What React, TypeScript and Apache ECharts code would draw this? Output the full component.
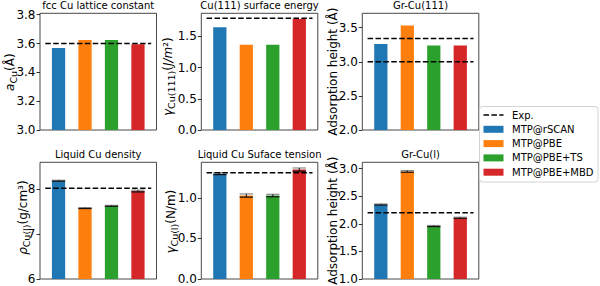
import React, { useEffect, useRef } from "react";
import * as echarts from "echarts";

// ---------- data ----------
const methods = ["MTP@rSCAN", "MTP@PBE", "MTP@PBE+TS", "MTP@PBE+MBD"];
const methodColors = ["#1f77b4", "#ff7f0e", "#2ca02c", "#d62728"];
const expLabel = "Exp.";

const panelTitles = [
  "fcc Cu lattice constant",
  "Cu(111) surface energy",
  "Gr-Cu(111)",
  "Liquid Cu density",
  "Liquid Cu Suface tension",
  "Gr-Cu(l)",
];

const latticeConstant = [3.57, 3.625, 3.625, 3.595];
const latticeConstantExp = [3.6];

const surfaceEnergy = [1.645, 1.367, 1.366, 1.78];
const surfaceEnergyExp = [1.79];

const grCu111Height = [3.26, 3.53, 3.24, 3.24];
const grCu111Exp = [3.0, 3.34];

const liquidDensity = [8.19, 7.58, 7.63, 7.96];
const liquidDensityErr = [0.01, 0.01, 0.01, 0.02];
const liquidDensityExp = [8.02];

const surfaceTension = [1.3, 1.03, 1.03, 1.35];
const surfaceTensionErr = [0.012, 0.02, 0.015, 0.02];
const surfaceTensionExp = [1.31];

const grCuLHeight = [2.35, 2.95, 1.96, 2.11];
const grCuLErr = [0.01, 0.015, 0.01, 0.01];
const grCuLExp = [2.2];

const yMins = [3.0, 0, 2.0, 6, 0, 1.0];
const yMaxs = [3.81, 1.87, 3.71, 8.6, 1.44, 3.115];
const yTickValues = [
  [3.0, 3.2, 3.4, 3.6, 3.8],
  [0, 0.5, 1.0, 1.5],
  [2.0, 2.5, 3.0, 3.5],
  [6, 7, 8],
  [0, 0.5, 1.0],
  [1.0, 1.5, 2.0, 2.5, 3.0],
];
const tickDecimals = [1, 1, 1, 0, 1, 1];

const yAxisNames = [
  "{i|a}{s|Cu}{n|(Å)}",
  "{i|γ}{s|Cu(111)}{n|(}{i|J/m}{n|²)}",
  "{n|Adsorption height (Å)}",
  "{i|ρ}{s|Cu(l)}{n|(g/cm³)}",
  "{i|γ}{s|Cu(l)}{n|(N/m)}",
  "{n|Adsorption height (Å)}",
];

const panelValues = [latticeConstant, surfaceEnergy, grCu111Height, liquidDensity, surfaceTension, grCuLHeight];
const panelErrors = [null, null, null, liquidDensityErr, surfaceTensionErr, grCuLErr];
const panelExp = [latticeConstantExp, surfaceEnergyExp, grCu111Exp, liquidDensityExp, surfaceTensionExp, grCuLExp];

// ---------- layout (styles) ----------
const FONT = '"DejaVu Sans", "Liberation Sans", sans-serif';
const colLefts = [40, 201.3, 362.3];
const rowTops = [13.3, 162.3];
const panelW = 116.5;
const panelH = 116.7;
// centre of each y-axis name (x position, y offset from panel middle)
const nameX = [9.5, 167.5, 332.5, 22.5, 170.5, 332.5];
const nameDy = [0.5, 5, 0, -3, 1, 0];

const RICH = {
  i: { fontSize: 12, fontStyle: "italic", fontFamily: FONT, lineHeight: 14, fill: "#000", color: "#000" },
  n: { fontSize: 12, fontFamily: FONT, lineHeight: 14, fill: "#000", color: "#000" },
  s: { fontSize: 9.5, fontFamily: FONT, lineHeight: 10, padding: [7, 0, 0, 0], fill: "#000", color: "#000" },
};

function buildOption() {
  const grids: any[] = [];
  const xAxes: any[] = [];
  const yAxes: any[] = [];
  const series: any[] = [];
  const graphics: any[] = [];

  for (let k = 0; k < 6; k++) {
    const left = colLefts[k % 3];
    const top = rowTops[Math.floor(k / 3)];
    grids.push({
      left,
      top,
      width: panelW,
      height: panelH,
      show: true,
      borderColor: "#333",
      borderWidth: 0.9,
      backgroundColor: "transparent",
      containLabel: false,
      outerBoundsMode: "none",
    });
    xAxes.push({
      type: "value",
      gridIndex: k,
      min: -0.7,
      max: 3.7,
      show: false,
      axisLine: { onZero: false },
    });
    const dec = tickDecimals[k];
    yAxes.push({
      type: "value",
      gridIndex: k,
      position: "left",
      min: yMins[k],
      max: yMaxs[k],
      axisLine: { show: false, onZero: false },
      splitLine: { show: false },
      axisTick: {
        show: true,
        inside: false,
        length: 3.5,
        lineStyle: { color: "#000", width: 0.8 },
        customValues: yTickValues[k],
      },
      axisLabel: {
        show: true,
        customValues: yTickValues[k],
        formatter: (v: number) => Number(v).toFixed(dec),
        fontSize: 12,
        fontFamily: FONT,
        color: "#000",
        margin: 4.5,
      },
    });

    series.push({
      type: "bar",
      xAxisIndex: k,
      yAxisIndex: k,
      barWidth: "50%",
      silent: true,
      data: panelValues[k].map((v, i) => ({ value: [i, v], itemStyle: { color: methodColors[i] } })),
    });

    panelExp[k].forEach((ev) => {
      series.push({
        type: "line",
        xAxisIndex: k,
        yAxisIndex: k,
        symbol: "none",
        silent: true,
        z: 5,
        lineStyle: { color: "#000", width: 1.5, type: [5.5, 2.4] },
        data: [
          [-0.5, ev],
          [3.5, ev],
        ],
      });
    });

    const errs = panelErrors[k];
    if (errs) {
      series.push({
        type: "custom",
        xAxisIndex: k,
        yAxisIndex: k,
        silent: true,
        z: 4,
        encode: { x: 0, y: 1 },
        data: panelValues[k].map((v, i) => [i, v, errs[i]]),
        renderItem: (_params: any, api: any) => {
          const i = api.value(0);
          const v = api.value(1);
          const e = api.value(2);
          const hi = api.coord([i, v + e]);
          const lo = api.coord([i, v - e]);
          const half = api.size([0.25, 0])[0];
          return {
            type: "group",
            children: [
              {
                type: "line",
                shape: { x1: hi[0] - half, y1: hi[1], x2: hi[0] + half, y2: hi[1] },
                style: { stroke: "#8a8a8a", lineWidth: 1.2 },
              },
              {
                type: "line",
                shape: { x1: hi[0], y1: hi[1], x2: lo[0], y2: lo[1] },
                style: { stroke: "#111", lineWidth: 1 },
              },
              {
                type: "line",
                shape: { x1: lo[0] - half, y1: lo[1], x2: lo[0] + half, y2: lo[1] },
                style: { stroke: "#111", lineWidth: 1.2 },
              },
            ],
          };
        },
      });
    }

    // panel title
    graphics.push({
      type: "text",
      x: left + panelW / 2,
      y: top - 8,
      silent: true,
      style: {
        text: panelTitles[k],
        font: `10px ${FONT}`,
        fill: "#000",
        align: "center",
        verticalAlign: "middle",
      },
    });

    // y-axis name (rotated)
    graphics.push({
      type: "text",
      x: nameX[k],
      y: top + panelH / 2 + nameDy[k],
      rotation: Math.PI / 2,
      silent: true,
      style: {
        text: yAxisNames[k],
        rich: RICH,
        font: `12px ${FONT}`,
        fill: "#000",
        align: "center",
        verticalAlign: "middle",
      },
    });
  }

  // legend
  const legX = 479.5;
  const legY = 106.5;
  const rowY = [115, 129.3, 143.6, 157.9, 172.2];
  graphics.push({
    type: "rect",
    silent: true,
    z: 10,
    shape: { x: legX, y: legY, width: 118.5, height: 75.5, r: 3 },
    style: { fill: "rgba(255,255,255,0.85)", stroke: "#d3d3d3", lineWidth: 1 },
  });
  graphics.push({
    type: "line",
    silent: true,
    z: 11,
    shape: { x1: 483.5, y1: rowY[0], x2: 503.5, y2: rowY[0] },
    style: { stroke: "#000", lineWidth: 1.5, lineDash: [5.5, 2.4] },
  });
  graphics.push({
    type: "text",
    silent: true,
    z: 11,
    x: 512,
    y: rowY[0],
    style: { text: expLabel, font: `10px ${FONT}`, fill: "#000", align: "left", verticalAlign: "middle" },
  });
  methods.forEach((m, i) => {
    graphics.push({
      type: "rect",
      silent: true,
      z: 11,
      shape: { x: 483.5, y: rowY[i + 1] - 3.5, width: 20, height: 7 },
      style: { fill: methodColors[i] },
    });
    graphics.push({
      type: "text",
      silent: true,
      z: 11,
      x: 512,
      y: rowY[i + 1],
      style: { text: m, font: `10px ${FONT}`, fill: "#000", align: "left", verticalAlign: "middle" },
    });
  });

  return {
    animation: false,
    backgroundColor: "#fff",
    grid: grids,
    xAxis: xAxes,
    yAxis: yAxes,
    series,
    graphic: graphics,
  };
}

export default function App() {
  const ref = useRef<HTMLDivElement>(null);
  useEffect(() => {
    document.body.style.margin = "0";
    if (!ref.current) return;
    const chart = echarts.init(ref.current, undefined, { renderer: "svg" });
    chart.setOption(buildOption() as any);
    return () => chart.dispose();
  }, []);
  return (
    <div
      ref={ref}
      style={{ position: "fixed", left: 0, top: 0, width: 600, height: 286, background: "#fff" }}
    />
  );
}
